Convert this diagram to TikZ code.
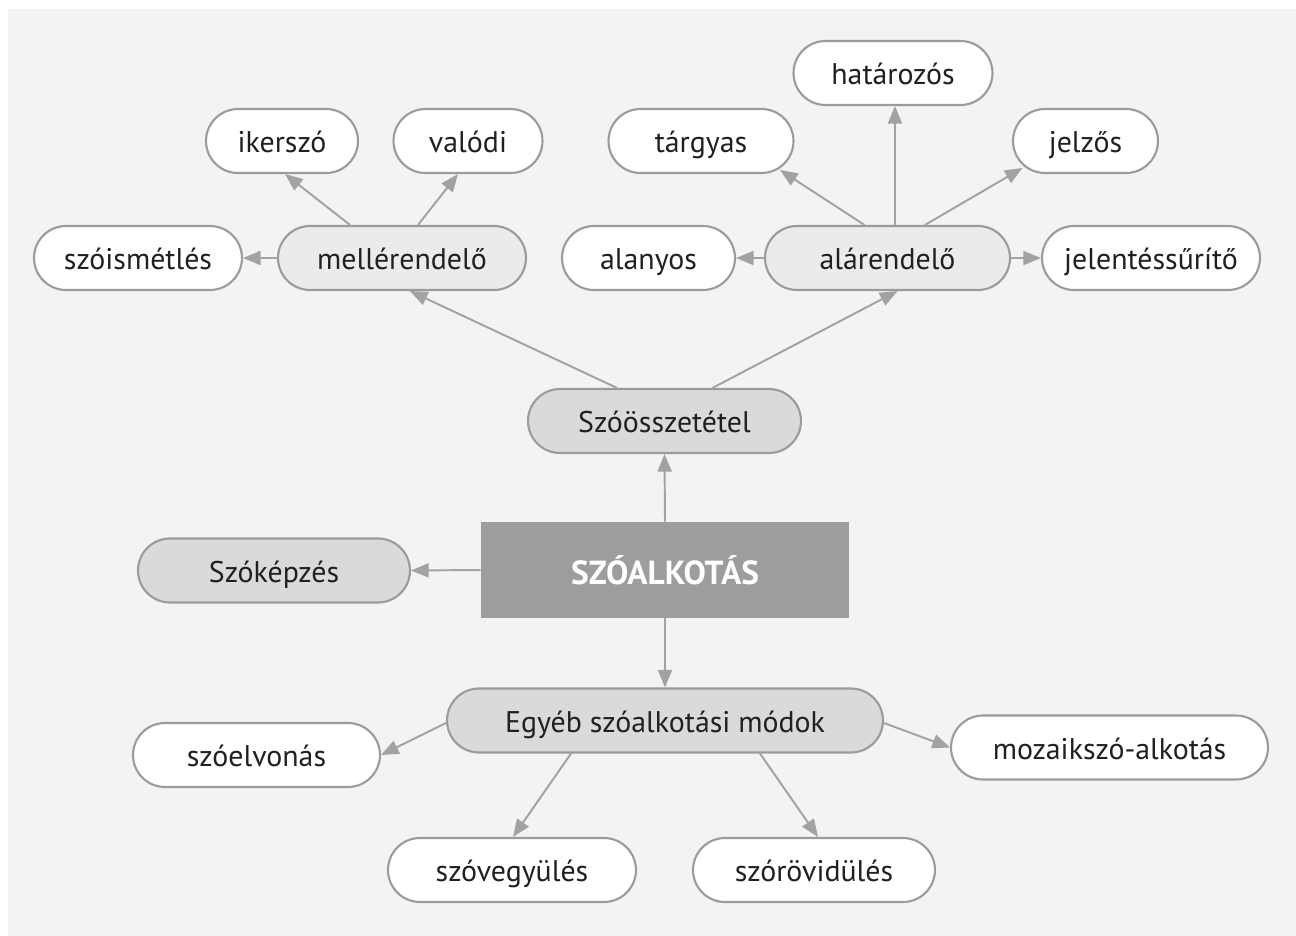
\documentclass[tikz,border=0pt]{standalone}
\usepackage{fontspec}
\setmainfont{PT Sans}
\usepackage{tikz}
\usetikzlibrary{calc, arrows.meta}

\definecolor{bggray}{HTML}{F3F3F3}
\definecolor{linegray}{HTML}{9B9B9B}
\definecolor{arrgray}{HTML}{A2A2A2}
\definecolor{midgray}{HTML}{DADADA}
\definecolor{lightgray}{HTML}{EBEBEB}
\definecolor{coregray}{HTML}{9D9D9D}
\definecolor{txt}{HTML}{231F20}

\tikzset{
    pill/.style={draw=linegray, line width=1.2pt, rectangle,
        rounded corners=0.64cm, minimum height=1.28cm, inner sep=0pt,
        text height=16pt, text depth=2.4pt,
        text=txt, font=\fontsize{17}{20}\selectfont},
    leaf/.style={pill, fill=white},
    branch/.style={pill, fill=lightgray},
    main/.style={pill, fill=midgray},
    arr/.style={draw=arrgray, line width=1.1pt,
        -{Triangle[length=10pt, width=8pt]}}
}

\begin{document}
\begin{tikzpicture}[x=0.02cm, y=-0.02cm]
    \useasboundingbox (0,0) rectangle (1296,936);
    \fill[white] (0,0) rectangle (1296,936);
    \fill[bggray] (8,9) rectangle (1296,936);

    \node[fill=coregray, minimum width=7.36cm, minimum height=1.92cm,
        text=white, font=\fontsize{19}{22}\selectfont\bfseries]
        (core) at (665,570) {SZÓALKOTÁS};

    \node[main, minimum width=5.46cm] (szoossz) at (664.5,421) {Szóösszetétel};
    \node[main, minimum width=5.44cm] (kepz) at (274,570.5) {Szóképzés};
    \node[main, minimum width=8.72cm] (egyeb) at (665,720.5) {Egyéb szóalkotási módok};

    \node[branch, minimum width=4.96cm] (mell) at (402,258) {mellérendelő};
    \node[branch, minimum width=4.90cm] (alar) at (887.5,258) {alárendelő};

    \node[leaf, minimum width=3.04cm] (iker) at (282,141) {ikerszó};
    \node[leaf, minimum width=2.98cm] (valodi) at (468,141) {valódi};
    \node[leaf, minimum width=4.16cm] (ism) at (138,258) {szóismétlés};

    \node[leaf, minimum width=3.98cm] (hat) at (893,73) {határozós};
    \node[leaf, minimum width=3.70cm] (targy) at (701,141) {tárgyas};
    \node[leaf, minimum width=2.90cm] (jelzo) at (1085.5,141) {jelzős};
    \node[leaf, minimum width=3.46cm] (alany) at (648.5,258) {alanyos};
    \node[leaf, minimum width=4.36cm] (jelent) at (1151,258) {jelentéssűrítő};

    \node[leaf, minimum width=4.94cm] (elvon) at (256.5,755) {szóelvonás};
    \node[leaf, minimum width=6.34cm] (mozaik) at (1109.5,747.5) {mozaikszó-alkotás};
    \node[leaf, minimum width=4.96cm] (vegy) at (512,870) {szóvegyülés};
    \node[leaf, minimum width=4.84cm] (rov) at (814,870) {szórövidülés};

    % from the centre
    \draw[arr] (core.north) -- (szoossz.south);
    \draw[arr] (core.west) -- (kepz.east);
    \draw[arr] (core.south) -- (egyeb.north);

    \draw[arr] ($(szoossz.north)+(-47.5,0)$) -- ($(mell.south)+(8,0)$);
    \draw[arr] ($(szoossz.north)+(48,0)$) -- ($(alar.south)+(10,0)$);

    \draw[arr] ($(mell.north)+(-52,0)$) -- ($(iker.south)+(3,0)$);
    \draw[arr] ($(mell.north)+(16,0)$) -- ($(valodi.south)+(-10,0)$);
    \draw[arr] (mell.west) -- (ism.east);

    \draw[arr] (alar.west) -- (alany.east);
    \draw[arr] (alar.east) -- (jelent.west);
    \draw[arr] ($(alar.north)+(-23,0)$) -- ($(targy.center)+(79,29)$);
    \draw[arr] ($(alar.north)+(7.5,0)$) -- ($(hat.south)+(2,0)$);
    \draw[arr] ($(alar.north)+(37.5,0)$) -- ($(jelzo.center)+(-63,27)$);

    \draw[arr] ($(egyeb.west)+(0,2.5)$) -- (elvon.east);
    \draw[arr] ($(egyeb.east)+(0,2.5)$) -- (mozaik.west);
    \draw[arr] ($(egyeb.south)+(-94,0)$) -- ($(vegy.north)+(1,0)$);
    \draw[arr] ($(egyeb.south)+(95,0)$) -- ($(rov.north)+(4,0)$);
\end{tikzpicture}
\end{document}
